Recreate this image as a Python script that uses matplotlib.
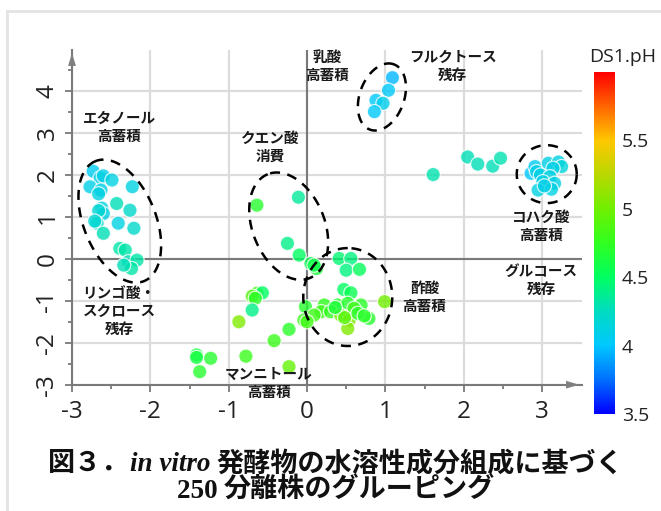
import numpy as np
import matplotlib
matplotlib.use('Agg')
import matplotlib.pyplot as plt
from matplotlib.colors import LinearSegmentedColormap, Normalize
from matplotlib.lines import Line2D

plt.rcParams['font.family'] = ['Open Sans', 'Noto Sans CJK JP', 'DejaVu Sans']
plt.rcParams['axes.unicode_minus'] = False

#=======================================================
#                       Data
#=======================================================

# PCA scores of the isolates and the pH of the fermentation (DS1.pH).
pc1 = [-2.73, -2.64, -2.60, -2.49, -2.77, -2.63, -2.66, -2.23, -2.43, -2.26,
       -2.62, -2.60, -2.66, -2.68, -2.41, -2.21, -2.60, -2.71, -2.39, -2.32,
       -2.28, -2.17, -2.24, -2.34,
       1.09, 1.04, 0.88, 0.97, 0.86,
       1.61, 2.05, 2.18, 2.37, 2.47,
       2.86, 2.91, 2.93, 3.08, 3.21, 3.25, 3.14, 2.98, 3.10, 3.01,
       3.16, 2.95, 3.12, 3.03,
       -0.64, -0.11, -0.25, -0.10, 0.05, 0.12, 0.09,
       0.41, 0.56, 0.50, 0.67, 0.47, 0.56, 0.99, -0.02, 0.22, 0.39,
       0.52, 0.69, 0.60, 0.18, 0.30, 0.09, -0.04, 0.00, 0.43, 0.54,
       0.52, 0.48, 0.79, 0.65, 0.73, 0.36,
       -0.64, -0.57, -0.70, -0.66, -0.70, -0.87, -0.42, -0.23, -1.41, -1.41,
       -1.23, -1.37, -0.78, -0.23]
pc2 = [2.09, 1.93, 1.98, 1.88, 1.72, 1.64, 1.55, 1.72, 1.32, 1.16,
       1.21, 1.08, 1.15, 0.85, 0.85, 0.73, 0.61, 0.90, 0.25, 0.21,
       -0.07, -0.03, -0.23, -0.15,
       4.32, 4.02, 3.78, 3.71, 3.51,
       2.01, 2.43, 2.26, 2.21, 2.40,
       2.04, 2.20, 2.08, 2.28, 2.31, 2.20, 2.16, 2.00, 1.96, 1.84,
       1.80, 1.64, 1.66, 1.74,
       1.28, 1.47, 0.37, 0.09, -0.11, -0.23, -0.15,
       0.01, 0.01, -0.27, -0.25, -0.73, -0.81, -1.02, -1.14, -1.10, -1.10,
       -1.06, -1.10, -1.18, -1.26, -1.26, -1.34, -1.46, -1.50, -1.34, -1.46,
       -1.66, -1.40, -1.42, -1.30, -1.36, -1.16,
       -0.82, -0.81, -0.89, -0.94, -1.22, -1.50, -1.95, -1.68, -2.29, -2.35,
       -2.37, -2.69, -2.32, -2.57]
ph = [4.05, 4.10, 4.10, 4.12, 4.10, 4.10, 4.12, 4.12, 4.28, 4.22,
      4.12, 4.12, 4.18, 4.22, 4.12, 4.22, 4.28, 4.18, 4.32, 4.32,
      4.28, 4.32, 4.32, 4.28,
      3.95, 4.02, 4.02, 4.08, 4.02,
      4.30, 4.28, 4.28, 4.28, 4.30,
      4.00, 4.05, 4.10, 4.10, 4.12, 4.15, 4.10, 4.10, 4.12, 4.10,
      4.12, 4.12, 4.12, 4.10,
      4.70, 4.35, 4.40, 4.50, 4.55, 4.65, 4.58,
      4.45, 4.42, 4.42, 4.52, 4.50, 4.55, 5.00, 4.70, 4.75, 4.72,
      4.70, 4.72, 4.80, 4.80, 4.75, 4.80, 4.78, 4.82, 5.00, 5.05,
      5.05, 4.90, 4.70, 4.72, 4.72, 4.65,
      4.82, 4.50, 4.90, 4.72, 4.40, 5.05, 4.78, 4.72, 4.58, 4.62,
      4.70, 4.70, 4.78, 4.95]

ph_ticks = [3.5, 4, 4.5, 5, 5.5]

# Group ellipses: centre (PC1, PC2), half-axes in PC1 units, tilt (deg).
groups = [(-2.39, 0.90, 0.826, 0.461, 112),
          (0.956, 3.86, 0.444, 0.284, 70),
          (3.06, 2.02, 0.383, 0.370, 0),
          (-0.234, 0.78, 0.715, 0.460, 112),
          (0.52, -0.91, 0.625, 0.568, 90)]

labels = ['乳酸\n高蓄積', 'フルクトース\n残存', 'エタノール\n高蓄積', 'クエン酸\n消費',
          'コハク酸\n高蓄積', 'グルコース\n残存', '酢酸\n高蓄積',
          'リンゴ酸・\nスクロース\n残存', 'マンニトール\n高蓄積']
label_pos = [(0.26, 4.6), (1.86, 4.6), (-2.4, 3.15), (-0.47, 2.68),
             (2.99, 0.78), (2.99, -0.5), (1.5, -0.91), (-2.4, -1.25),
             (-0.49, -2.95)]

#=======================================================
#                       Figure
#=======================================================

fig = plt.figure(figsize=(6.61, 5.11), dpi=100)
ax = fig.add_axes([72 / 661, 1 - 384.7 / 511, 510 / 661, 334.7 / 511])

cmap = LinearSegmentedColormap.from_list('ph', [
    (0.0, '#0000ff'), (0.1, '#0070ff'), (0.2, '#00c8ff'), (0.3, '#00dcc0'),
    (0.4, '#00ff60'), (0.5, '#30ff20'), (0.6, '#70f000'), (0.7, '#b8d800'),
    (0.8, '#ffc800'), (0.9, '#ff6600'), (1.0, '#ff0000')])
norm = Normalize(3.5, 6.0)

ax.set_xlim(-3, 3.51)
ax.set_ylim(-3, 4.98)
ax.set_xticks(range(-3, 4))
ax.set_yticks(range(-3, 5))
ax.set_xticks(np.arange(-2.5, 3.5, 1), minor=True)
ax.set_yticks(np.arange(-2.5, 5, 1), minor=True)
ax.grid(True, which='major', color='#dcdcdc', lw=1.6)
ax.set_axisbelow(True)
for s in ['top', 'right']:
    ax.spines[s].set_visible(False)
for s in ['left', 'bottom']:
    ax.spines[s].set_color('#7a7a7a')
    ax.spines[s].set_linewidth(1.5)
ax.axhline(0, color='#7a7a7a', lw=1.5, zorder=1)
ax.axvline(0, color='#7a7a7a', lw=1.5, zorder=1)
ax.tick_params(which='both', direction='out', color='#7a7a7a', width=1.3)
ax.tick_params(which='major', length=5, labelsize=17.5, labelcolor='#222222')
ax.tick_params(which='minor', length=3)
ax.tick_params(axis='y', labelrotation=90, pad=4)
ax.tick_params(axis='x', pad=6)
for t in ax.get_yticklabels():
    t.set_va('center')

arrow = dict(arrowstyle='-|>,head_length=0.95,head_width=0.28',
             color='#808080', lw=0, mutation_scale=10)
ax.annotate('', xy=(-3, 4.98), xytext=(-3, 4.6), arrowprops=arrow,
            annotation_clip=False)
ax.annotate('', xy=(3.51, -3), xytext=(3.2, -3), arrowprops=arrow,
            annotation_clip=False)

sc = ax.scatter(pc1, pc2, c=ph, cmap=cmap, norm=norm, s=105, alpha=0.8,
                edgecolors='white', linewidths=0.9, zorder=3)

# Dashed group ellipses (drawn in screen-like units, y scaled by aspect).
k = (510 / 6.51) / (334.7 / 7.98)
t = np.linspace(0, 2 * np.pi, 200)
for cx, cy, a, b, ang in groups:
    th = np.radians(ang)
    u = a * np.cos(t) * np.cos(th) - b * np.sin(t) * np.sin(th)
    v = a * np.cos(t) * np.sin(th) + b * np.sin(t) * np.cos(th)
    ax.plot(cx + u, cy + v * k, color='black', lw=1.8, ls=(0, (4, 3)),
            zorder=4, clip_on=False)

for s, (x, y) in zip(labels, label_pos):
    ax.text(x, y, s, ha='center', va='center', fontsize=10.5,
            fontweight='bold', color='#1a1a1a', linespacing=1.15,
            family=['Noto Sans CJK JP', 'DejaVu Sans'], zorder=5)

# Colour bar.
cax = fig.add_axes([594 / 661, 1 - 414 / 511, 21 / 661, 342 / 511])
cb = fig.colorbar(sc, cax=cax, ticks=ph_ticks)
cb.solids.set_alpha(1)
cb.outline.set_visible(False)
cb.ax.tick_params(length=0, labelsize=14, pad=5, labelcolor='#222222')
cb.ax.set_yticklabels(['3.5', '4', '4.5', '5', '5.5'])
fig.text(623 / 661, 1 - 57 / 511, 'DS1.pH', ha='center', va='center',
         fontsize=14, color='#222222')

# Light frame around the figure.
fig.add_artist(Line2D([7 / 661, 7 / 661], [0, 1 - 11 / 511],
                      color='#e3e3e3', lw=2))
fig.add_artist(Line2D([7 / 661, 1], [1 - 11 / 511, 1 - 11 / 511],
                      color='#e3e3e3', lw=2))

# Caption with mixed fonts, placed piece by piece.
cjk = dict(family=['Noto Sans CJK JP', 'DejaVu Sans'], fontweight='bold')
serif_i = dict(family='Liberation Serif', fontweight='bold', style='italic')
serif_b = dict(family='Liberation Serif', fontweight='bold')
caption = [
    (1 - 471 / 511, [('図３．', cjk), ('in vitro ', serif_i),
                     ('発酵物の水溶性成分組成に基づく', cjk)]),
    (1 - 498 / 511, [('250 ', serif_b), ('分離株のグルーピング', cjk)])]
renderer = fig.canvas.get_renderer()
for y, pieces in caption:
    objs = [fig.text(0, y, s, va='baseline', ha='left', fontsize=19.5,
                     color='#111111', **kw) for s, kw in pieces]
    widths = [o.get_window_extent(renderer).width for o in objs]
    x = 336 - sum(widths) / 2
    for o, w in zip(objs, widths):
        o.set_x(x / 661)
        x += w

plt.savefig('out.png', dpi=100)
